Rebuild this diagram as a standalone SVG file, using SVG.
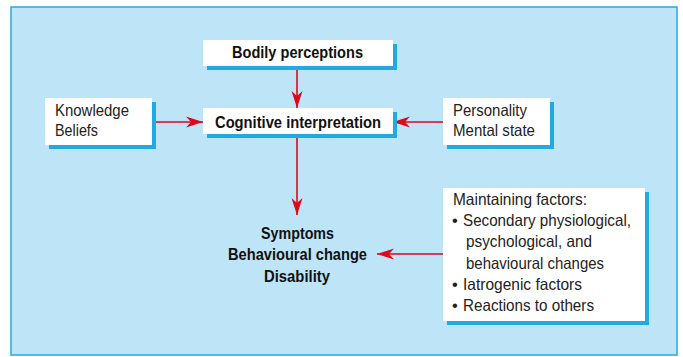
<svg xmlns="http://www.w3.org/2000/svg" width="683" height="357" viewBox="0 0 683 357">
<style>
.box{fill:#ffffff}
.sh{fill:#22a8e3}
.b{font-family:"Liberation Sans",Arial,sans-serif;font-weight:bold;font-size:17px;fill:#111}
.r{font-family:"Liberation Sans",Arial,sans-serif;font-size:16.5px;fill:#222}
.c{text-anchor:middle}
.ln{stroke:#e2061a;stroke-width:1.6;fill:none;marker-end:url(#ah)}
</style>
<defs>
<marker id="ah" markerUnits="userSpaceOnUse" markerWidth="20" markerHeight="12" refX="17" refY="6" orient="auto" viewBox="0 0 20 12">
<path d="M17,6 L0,0.5 L5,6 L0,11.5 Z" fill="#e2061a"/>
</marker>
</defs>
<rect x="11" y="7" width="666" height="348" fill="#bde5f7" stroke="#29a9e0" stroke-width="1.5"/>
<g id="connectors">
<line class="ln" x1="297" y1="66" x2="297" y2="108"/>
<line class="ln" x1="152" y1="122" x2="203" y2="122"/>
<line class="ln" x1="443" y1="122" x2="393" y2="122"/>
<line class="ln" x1="297" y1="134" x2="297" y2="215"/>
<line class="ln" x1="443" y1="254" x2="377" y2="254"/>
</g>
<g id="bodily">
<rect class="sh" x="207" y="44" width="190" height="26"/>
<rect class="box" x="203" y="40" width="190" height="26"/>
<text class="b c" x="297.5" y="57.5" textLength="131" lengthAdjust="spacingAndGlyphs">Bodily perceptions</text>
</g>
<g id="cognitive">
<rect class="sh" x="207" y="112" width="190" height="26"/>
<rect class="box" x="203" y="108" width="190" height="26"/>
<text class="b c" x="298" y="127.5" textLength="166" lengthAdjust="spacingAndGlyphs">Cognitive interpretation</text>
</g>
<g id="knowledge">
<rect class="sh" x="49" y="102" width="107" height="47"/>
<rect class="box" x="45" y="98" width="107" height="47"/>
<text class="r" x="55" y="116" textLength="74" lengthAdjust="spacingAndGlyphs">Knowledge</text>
<text class="r" x="55" y="136" textLength="43" lengthAdjust="spacingAndGlyphs">Beliefs</text>
</g>
<g id="personality">
<rect class="sh" x="447" y="102" width="107" height="47"/>
<rect class="box" x="443" y="98" width="107" height="47"/>
<text class="r" x="453" y="116" textLength="74" lengthAdjust="spacingAndGlyphs">Personality</text>
<text class="r" x="453" y="136" textLength="82" lengthAdjust="spacingAndGlyphs">Mental state</text>
</g>
<g id="outcomes">
<text class="b c" x="297.5" y="238.5" textLength="73" lengthAdjust="spacingAndGlyphs">Symptoms</text>
<text class="b c" x="297.5" y="260" textLength="139" lengthAdjust="spacingAndGlyphs">Behavioural change</text>
<text class="b c" x="297" y="281.5" textLength="66" lengthAdjust="spacingAndGlyphs">Disability</text>
</g>
<g id="maintaining">
<rect class="sh" x="447" y="192" width="202" height="133"/>
<rect class="box" x="443" y="188" width="202" height="133"/>
<text class="r" x="453" y="205" textLength="134" lengthAdjust="spacingAndGlyphs">Maintaining factors:</text>
<text class="r" x="452" y="226">•</text>
<text class="r" x="463" y="226" textLength="168" lengthAdjust="spacingAndGlyphs">Secondary physiological,</text>
<text class="r" x="466" y="247" textLength="126" lengthAdjust="spacingAndGlyphs">psychological, and</text>
<text class="r" x="466" y="268.5" textLength="138" lengthAdjust="spacingAndGlyphs">behavioural changes</text>
<text class="r" x="452" y="290">•</text>
<text class="r" x="463" y="290" textLength="119" lengthAdjust="spacingAndGlyphs">Iatrogenic factors</text>
<text class="r" x="452" y="311">•</text>
<text class="r" x="463" y="311" textLength="131" lengthAdjust="spacingAndGlyphs">Reactions to others</text>
</g>
</svg>
